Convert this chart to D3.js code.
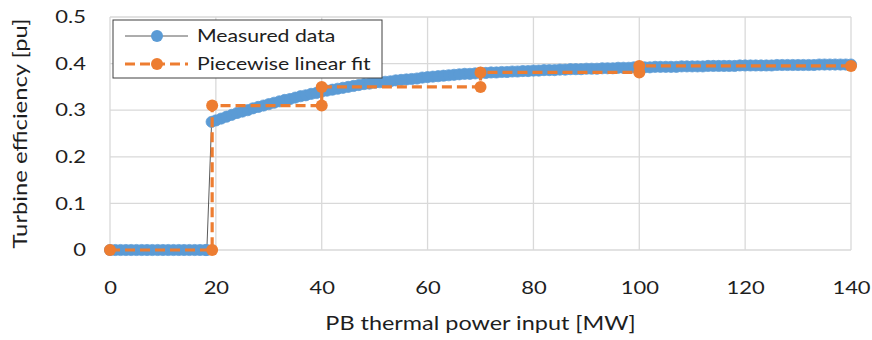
<!DOCTYPE html>
<html>
<head>
<meta charset="utf-8">
<script src="https://cdn.jsdelivr.net/npm/d3@7"></script>
<style>
  body { margin: 0; background: #fff; }
  text { font-family: Lato, "Open Sans", sans-serif; fill: #1e1e1e; }
</style>
</head>
<body>
<svg id="chart" width="872" height="340"></svg>
<script>
// measured turbine efficiency vs. PB thermal input
const measX = [
  0, 1, 2, 3, 4, 5, 6, 7, 8, 9, 10, 11, 12, 13, 14, 15, 16, 17, 18, 18.3,
  19.2, 20, 21, 22, 23, 24, 25, 26, 27, 28, 29, 30, 31, 32, 33, 34, 35, 36, 37, 38, 39,
  40, 41, 42, 43, 44, 45, 46, 47, 48, 49, 50, 51, 52, 53, 54, 55, 56, 57, 58, 59,
  60, 61, 62, 63, 64, 65, 66, 67, 68, 69, 70, 71, 72, 73, 74, 75, 76, 77, 78, 79,
  80, 81, 82, 83, 84, 85, 86, 87, 88, 89, 90, 91, 92, 93, 94, 95, 96, 97, 98, 99,
  100, 101, 102, 103, 104, 105, 106, 107, 108, 109, 110, 111, 112, 113, 114, 115, 116, 117, 118, 119,
  120, 121, 122, 123, 124, 125, 126, 127, 128, 129, 130, 131, 132, 133, 134, 135, 136, 137, 138, 139, 140
];
const measY = [
  0, 0, 0, 0, 0, 0, 0, 0, 0, 0, 0, 0, 0, 0, 0, 0, 0, 0, 0, 0,
  0.275, 0.278, 0.282, 0.286, 0.290, 0.294, 0.297, 0.300, 0.304, 0.307, 0.310, 0.313, 0.316, 0.319, 0.322, 0.324, 0.327, 0.330, 0.332, 0.335, 0.337,
  0.340, 0.342, 0.344, 0.346, 0.348, 0.350, 0.352, 0.354, 0.356, 0.357, 0.359, 0.360, 0.361, 0.362, 0.364, 0.365, 0.366, 0.367, 0.368, 0.370,
  0.371, 0.372, 0.373, 0.374, 0.375, 0.376, 0.377, 0.378, 0.378, 0.379, 0.380, 0.380, 0.381, 0.381, 0.382, 0.382, 0.383, 0.383, 0.384, 0.384,
  0.385, 0.385, 0.386, 0.386, 0.386, 0.387, 0.387, 0.388, 0.388, 0.388, 0.389, 0.389, 0.389, 0.390, 0.390, 0.390, 0.391, 0.391, 0.391, 0.392,
  0.392, 0.392, 0.392, 0.393, 0.393, 0.393, 0.393, 0.393, 0.394, 0.394, 0.394, 0.394, 0.394, 0.395, 0.395, 0.395, 0.395, 0.395, 0.395, 0.396,
  0.396, 0.396, 0.396, 0.396, 0.396, 0.396, 0.397, 0.397, 0.397, 0.397, 0.397, 0.397, 0.397, 0.397, 0.398, 0.398, 0.398, 0.398, 0.398, 0.398, 0.398
];

// piecewise linear fit breakpoints
const fitX = [0, 19.3, 19.3, 40, 40, 70, 70, 100, 100, 140];
const fitY = [0, 0, 0.31, 0.31, 0.35, 0.35, 0.381, 0.381, 0.395, 0.395];

const xTicks = [0, 20, 40, 60, 80, 100, 120, 140];
const yTicks = [0, 0.1, 0.2, 0.3, 0.4, 0.5];
const yTickLabels = ["0", "0.1", "0.2", "0.3", "0.4", "0.5"];

const seriesNames = ["Measured data", "Piecewise linear fit"];

const width = 872, height = 340;
const margin = { top: 17, right: 21, bottom: 90, left: 110 };
const innerW = width - margin.left - margin.right;
const innerH = height - margin.top - margin.bottom;

const blue = "#5B9BD5", orange = "#ED7D31";
// the source figure is a bit wider than tall, text gets stretched to match
const sx = 1.22;

const svg = d3.select("#chart");
const g = svg.append("g").attr("transform", `translate(${margin.left},${margin.top})`);

const x = d3.scaleLinear().domain([0, 140]).range([0, innerW]);
const y = d3.scaleLinear().domain([0, 0.5]).range([innerH, 0]);

// gridlines
g.append("g")
  .selectAll("line")
  .data(yTicks)
  .join("line")
  .attr("x1", 0).attr("x2", innerW)
  .attr("y1", d => y(d)).attr("y2", d => y(d))
  .attr("stroke", "#d9d9d9").attr("stroke-width", 1.3);

g.append("g")
  .selectAll("line")
  .data(xTicks)
  .join("line")
  .attr("x1", d => x(d)).attr("x2", d => x(d))
  .attr("y1", 0).attr("y2", innerH)
  .attr("stroke", "#d9d9d9").attr("stroke-width", 1.3);

// axes (labels only)
const xAxis = g.append("g")
  .attr("transform", `translate(0,${innerH})`)
  .call(d3.axisBottom(x).tickValues(xTicks).tickSize(0).tickPadding(31));
xAxis.select(".domain").remove();
xAxis.selectAll("text")
  .style("font-size", "18px")
  .attr("transform", `scale(${sx},1)`);

const yPad = 24;
const yAxis = g.append("g")
  .call(d3.axisLeft(y).tickValues(yTicks).tickSize(0).tickPadding(yPad)
    .tickFormat((d, i) => yTickLabels[i]));
yAxis.select(".domain").remove();
yAxis.selectAll("text")
  .style("font-size", "18px")
  .attr("x", -yPad / sx)
  .attr("transform", `scale(${sx},1)`);

// measured data
const measData = measX.map((v, i) => ({ x: v, y: measY[i] }));
const line = d3.line().x(d => x(d.x)).y(d => y(d.y));

g.append("path")
  .datum(measData)
  .attr("d", line)
  .attr("fill", "none")
  .attr("stroke", "#303030")
  .attr("stroke-width", 0.8);

g.append("g")
  .selectAll("circle")
  .data(measData)
  .join("circle")
  .attr("cx", d => x(d.x))
  .attr("cy", d => y(d.y))
  .attr("r", 5.6)
  .attr("fill", blue)
  .attr("stroke", blue)
  .attr("stroke-width", 0.75);

// piecewise fit
const fitData = fitX.map((v, i) => ({ x: v, y: fitY[i] }));
g.append("path")
  .datum(fitData)
  .attr("d", line)
  .attr("fill", "none")
  .attr("stroke", orange)
  .attr("stroke-width", 3.2)
  .attr("stroke-dasharray", "10,5");

g.append("g")
  .selectAll("circle")
  .data(fitData)
  .join("circle")
  .attr("cx", d => x(d.x))
  .attr("cy", d => y(d.y))
  .attr("r", 6)
  .attr("fill", orange);

// legend
const leg = svg.append("g").attr("transform", "translate(113,20)");
leg.append("rect")
  .attr("width", 269).attr("height", 58)
  .attr("fill", "#fff").attr("stroke", "#404040").attr("stroke-width", 1);

const legRows = leg.selectAll("g.row")
  .data(seriesNames)
  .join("g")
  .attr("class", "row")
  .attr("transform", (d, i) => `translate(0,${16 + i * 28})`);

legRows.append("line")
  .attr("x1", 12).attr("x2", 75).attr("y1", 0).attr("y2", 0)
  .attr("stroke", (d, i) => i === 0 ? "#303030" : orange)
  .attr("stroke-width", (d, i) => i === 0 ? 0.8 : 3.2)
  .attr("stroke-dasharray", (d, i) => i === 0 ? null : "10,5");

legRows.append("circle")
  .attr("cx", 44).attr("cy", 0).attr("r", 6)
  .attr("fill", (d, i) => i === 0 ? blue : orange);

legRows.append("text")
  .attr("transform", `translate(84,0) scale(${sx},1)`)
  .attr("dy", "0.35em")
  .style("font-size", "17.4px")
  .text(d => d);

// axis titles
svg.append("text")
  .attr("transform", `translate(${margin.left + innerW / 2},330) scale(${sx},1)`)
  .attr("text-anchor", "middle")
  .style("font-size", "19.2px")
  .text("PB thermal power input [MW]");

svg.append("text")
  .attr("transform", `translate(27,${margin.top + innerH / 2}) rotate(-90) scale(${sx},1)`)
  .attr("text-anchor", "middle")
  .style("font-size", "19.5px")
  .text("Turbine efficiency [pu]");
</script>
</body>
</html>
